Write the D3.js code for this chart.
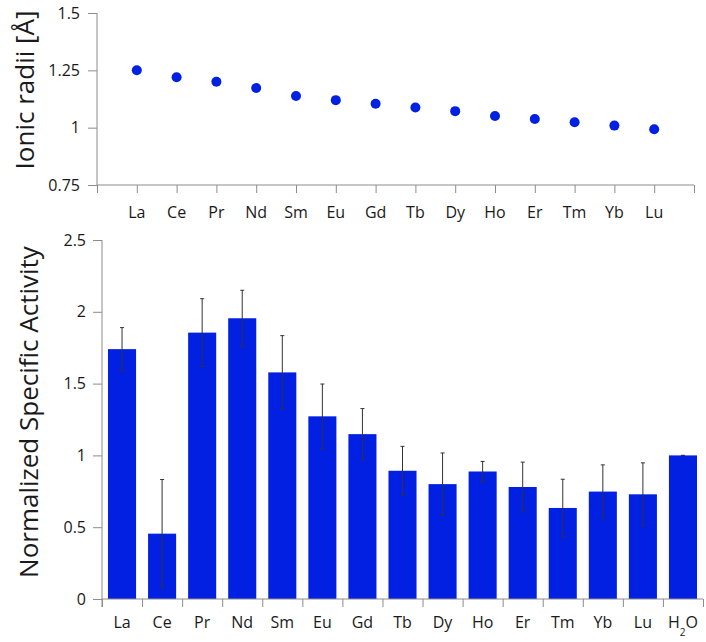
<!DOCTYPE html>
<html>
<head>
<meta charset="utf-8">
<script src="https://cdn.jsdelivr.net/npm/d3@7"></script>
<style>
  body { margin: 0; background: #fff; }
  text { font-family: "Open Sans", "Noto Sans", sans-serif; fill: #1a1a1a; }
  .axis path, .axis line { stroke: #8c8c8c; }
</style>
</head>
<body>
<svg id="chart" width="706" height="642"></svg>
<script>
// lanthanide series, shared by both panels
const elements = ["La", "Ce", "Pr", "Nd", "Sm", "Eu", "Gd", "Tb", "Dy", "Ho", "Er", "Tm", "Yb", "Lu"];
const ionicRadii = [1.25, 1.22, 1.20, 1.173, 1.138, 1.12, 1.104, 1.088, 1.072, 1.051, 1.038, 1.024, 1.009, 0.993];

// bottom panel (elements + water control)
const activityLabels = ["La", "Ce", "Pr", "Nd", "Sm", "Eu", "Gd", "Tb", "Dy", "Ho", "Er", "Tm", "Yb", "Lu", "H2O"];
const activity = [1.74, 0.455, 1.855, 1.955, 1.578, 1.272, 1.148, 0.893, 0.80, 0.888, 0.78, 0.634, 0.748, 0.729, 1.0];
const activityErr = [0.15, 0.377, 0.236, 0.195, 0.256, 0.225, 0.178, 0.17, 0.217, 0.07, 0.173, 0.2, 0.186, 0.219, 0];

const radiiTicks = [0.75, 1, 1.25, 1.5];
const activityTicks = [0, 0.5, 1, 1.5, 2, 2.5];

const svg = d3.select("#chart");
const blue = "#0120e2";

// ---- top panel: ionic radii scatter ----
const topBox = { left: 97, right: 694, top: 13, bottom: 185 };

const xTop = d3.scaleLinear().domain([0, elements.length + 1]).range([topBox.left, topBox.right]);
const yTop = d3.scaleLinear().domain([0.75, 1.5]).range([topBox.bottom, topBox.top]);

svg.append("g")
    .attr("class", "axis")
    .attr("transform", `translate(0,${topBox.bottom})`)
    .call(d3.axisBottom(xTop).ticks(15).tickSize(8).tickFormat(""))
    .call(g => g.select(".domain").attr("d", `M${topBox.left},0H${topBox.right}`));

svg.append("g")
    .attr("class", "axis")
    .attr("transform", `translate(${topBox.left},0)`)
    .call(d3.axisLeft(yTop).tickValues(radiiTicks).tickSize(9).tickPadding(8).tickFormat(d3.format("")))
    .call(g => g.select(".domain").attr("d", `M0,${topBox.bottom}V${topBox.top}`))
    .call(g => g.selectAll("text").style("font-size", "16px").attr("fill", "#1a1a1a"));

svg.append("g").selectAll("text")
    .data(elements)
    .join("text")
    .attr("x", (d, i) => xTop(i + 1))
    .attr("y", topBox.bottom + 33)
    .attr("text-anchor", "middle")
    .style("font-size", "16px")
    .text(d => d);

svg.append("g").selectAll("circle")
    .data(ionicRadii)
    .join("circle")
    .attr("cx", (d, i) => xTop(i + 1))
    .attr("cy", d => yTop(d))
    .attr("r", 5)
    .attr("fill", blue);

svg.append("text")
    .attr("transform", "translate(34,90) rotate(-90)")
    .attr("text-anchor", "middle")
    .style("font-size", "26px")
    .text("Ionic radii [Å]");

// ---- bottom panel: specific activity bars ----
const botBox = { left: 102, right: 703, top: 240, bottom: 599 };

const xBot = d3.scaleBand()
    .domain(activityLabels)
    .range([botBox.left, botBox.right])
    .paddingInner(0.3)
    .paddingOuter(0.15);
const xIdx = d3.scaleLinear().domain([0, activityLabels.length]).range([botBox.left, botBox.right]);
const yBot = d3.scaleLinear().domain([0, 2.5]).range([botBox.bottom, botBox.top]);

svg.append("g").selectAll("rect")
    .data(activity)
    .join("rect")
    .attr("x", (d, i) => xBot(activityLabels[i]))
    .attr("width", xBot.bandwidth())
    .attr("y", d => yBot(d))
    .attr("height", d => yBot(0) - yBot(d))
    .attr("fill", blue);

// error bars
const errG = svg.append("g")
    .attr("stroke", "#333")
    .attr("stroke-width", 1);
activity.forEach((v, i) => {
    const cx = xBot(activityLabels[i]) + xBot.bandwidth() / 2;
    const hi = yBot(v + activityErr[i]), lo = yBot(v - activityErr[i]);
    errG.append("line").attr("x1", cx).attr("x2", cx).attr("y1", hi).attr("y2", lo);
    errG.append("line").attr("x1", cx - 2).attr("x2", cx + 2).attr("y1", hi).attr("y2", hi);
    errG.append("line").attr("x1", cx - 2).attr("x2", cx + 2).attr("y1", lo).attr("y2", lo);
});

svg.append("g")
    .attr("class", "axis")
    .attr("transform", `translate(0,${botBox.bottom})`)
    .call(d3.axisBottom(xIdx).ticks(15).tickSize(8).tickFormat(""))
    .call(g => g.select(".domain").attr("d", `M${botBox.left},0H${botBox.right}`));

svg.append("g")
    .attr("class", "axis")
    .attr("transform", `translate(${botBox.left},0)`)
    .call(d3.axisLeft(yBot).tickValues(activityTicks).tickSize(9).tickPadding(7).tickFormat(d3.format("")))
    .call(g => g.select(".domain").attr("d", `M0,${botBox.bottom + 8}V${botBox.top}`))
    .call(g => g.selectAll("text").style("font-size", "16px").attr("fill", "#1a1a1a"));

const xl = svg.append("g").selectAll("text")
    .data(activityLabels)
    .join("text")
    .attr("x", d => xBot(d) + xBot.bandwidth() / 2)
    .attr("y", botBox.bottom + 29)
    .attr("text-anchor", "middle")
    .style("font-size", "16px");

xl.each(function(d) {
    const t = d3.select(this);
    if (d === "H2O") {
        t.append("tspan").text("H");
        t.append("tspan").text("2").style("font-size", "10px").attr("dy", 8);
        t.append("tspan").text("O").attr("dy", -8);
    } else {
        t.text(d);
    }
});

svg.append("text")
    .attr("transform", "translate(38,412) rotate(-90)")
    .attr("text-anchor", "middle")
    .style("font-size", "26px")
    .text("Normalized Specific Activity");
</script>
</body>
</html>
